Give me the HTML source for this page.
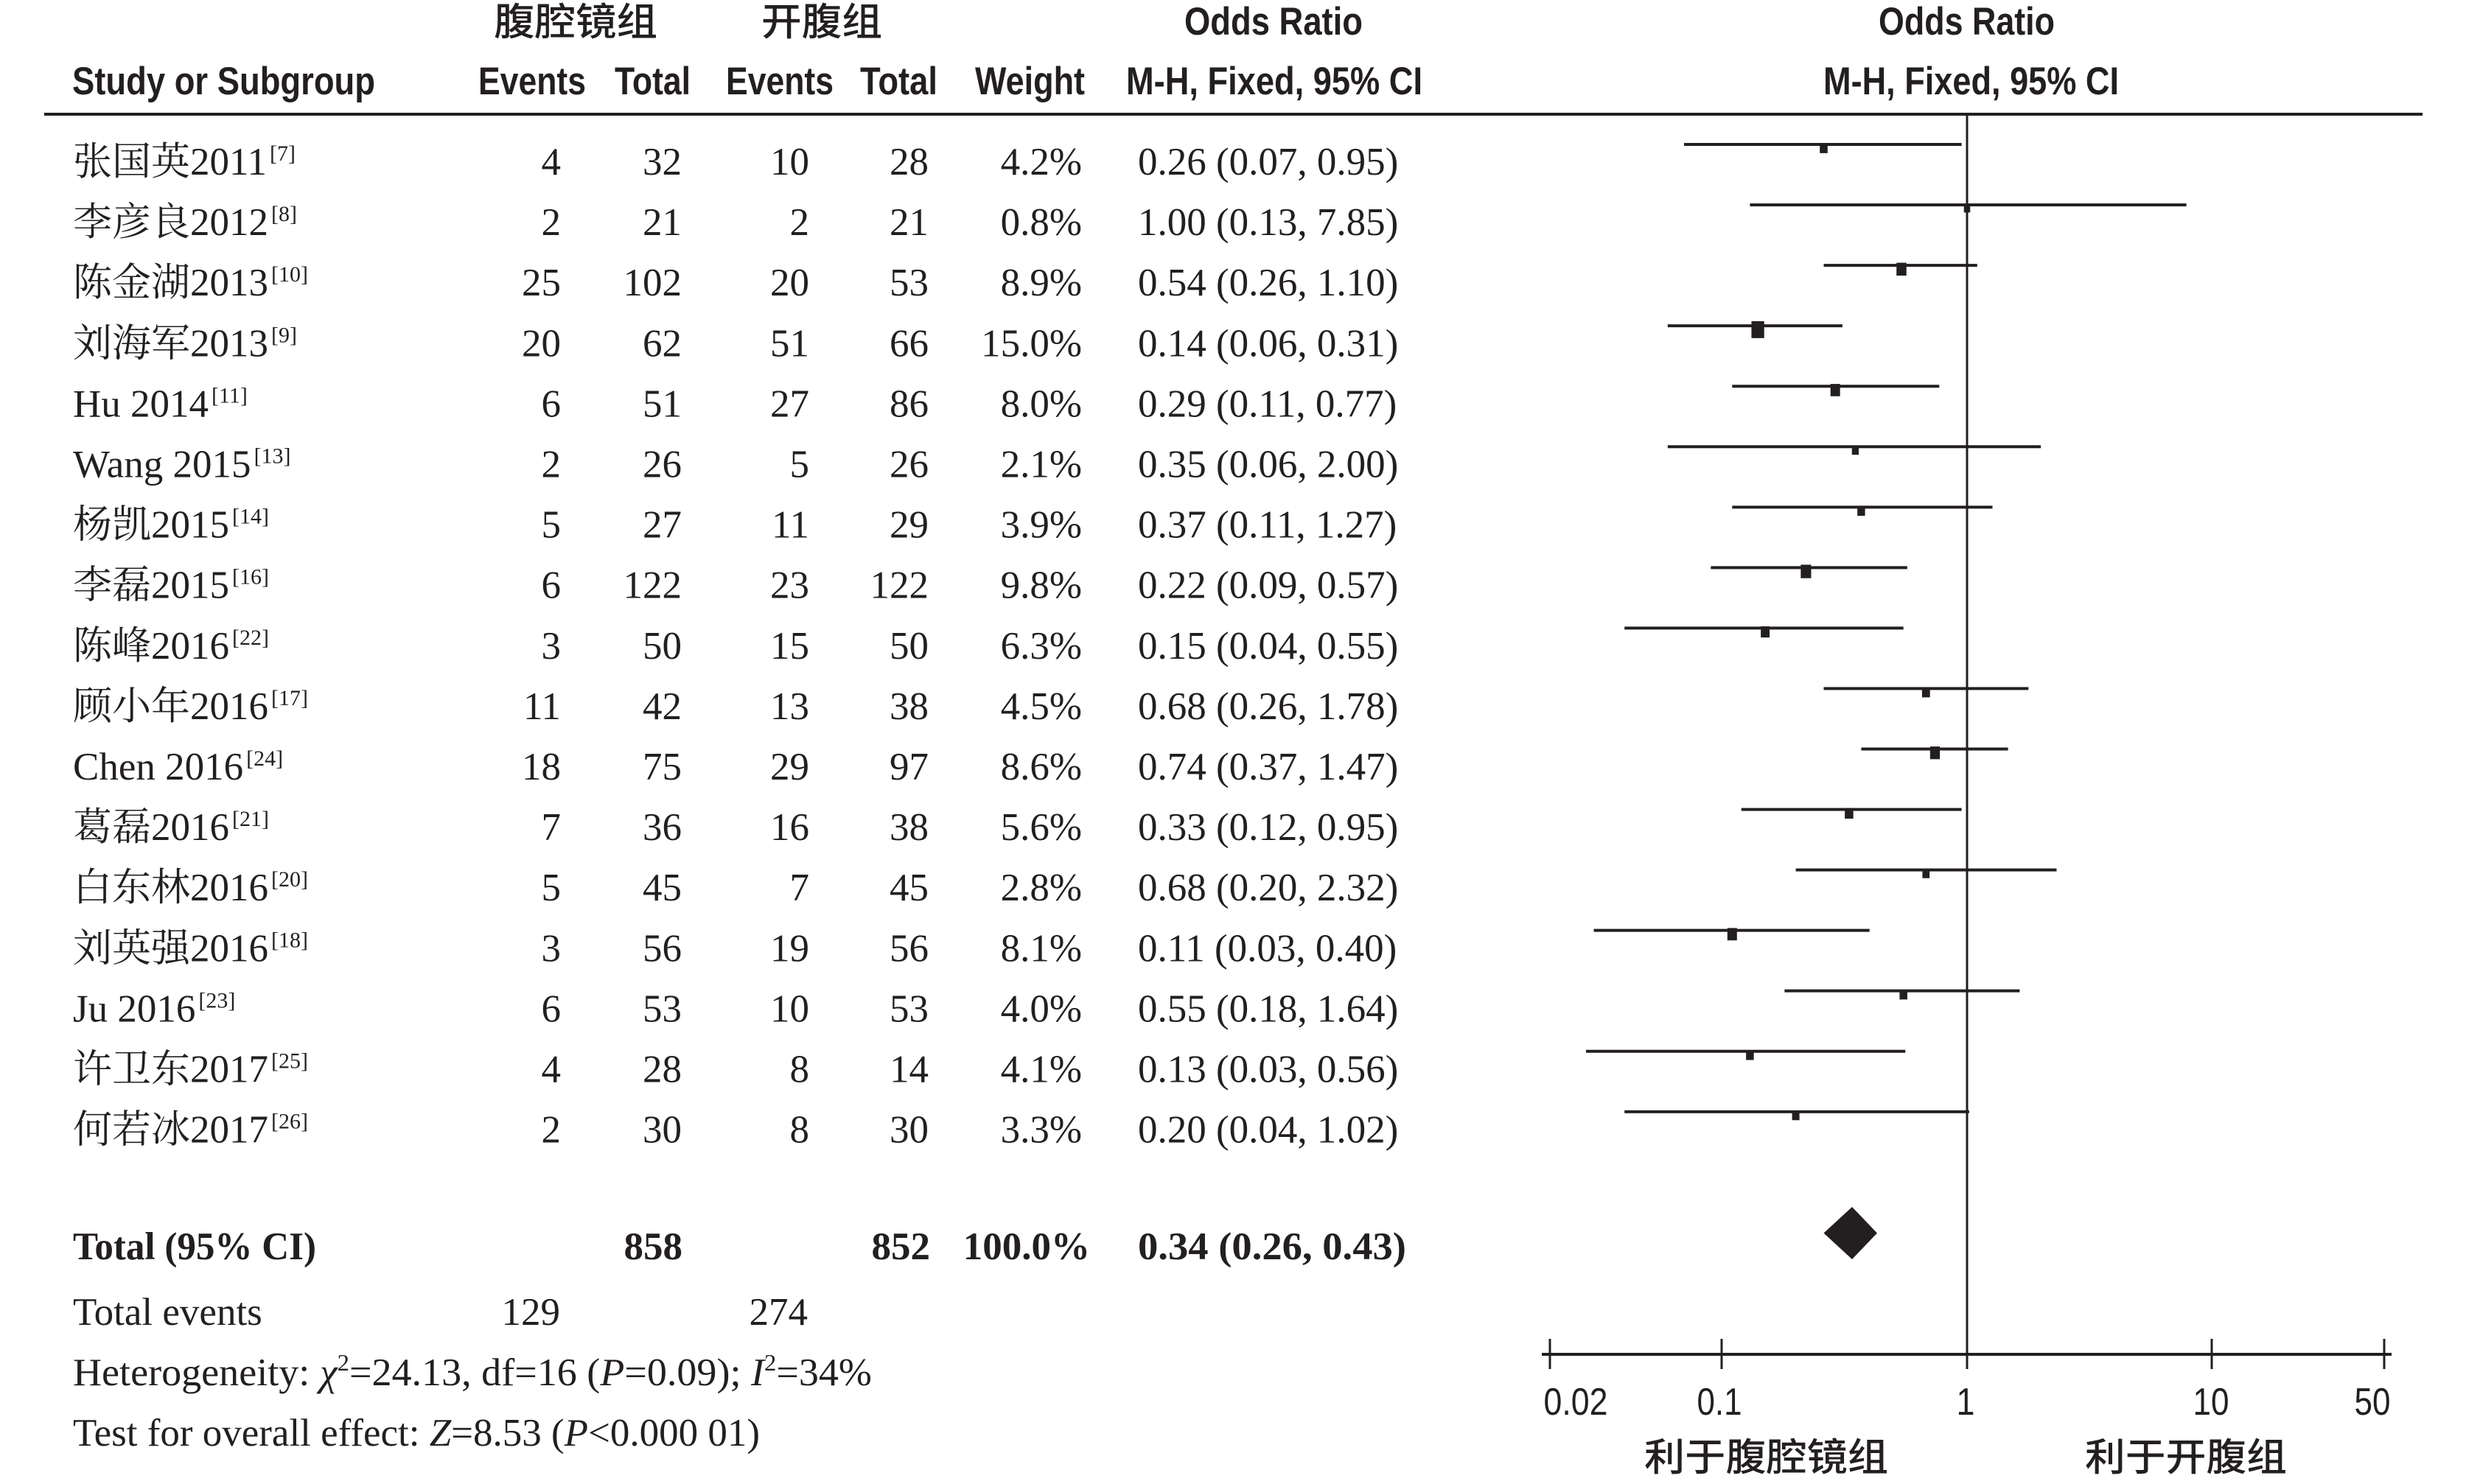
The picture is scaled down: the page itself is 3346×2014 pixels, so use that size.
<!DOCTYPE html>
<html>
<head>
<meta charset="utf-8">
<style>
html,body{margin:0;padding:0;background:#fff;}
svg{display:block;}
.h{font-family:"Liberation Sans",sans-serif;font-weight:bold;font-size:53px;fill:#231f20;}
.c{font-family:"Liberation Sans","Noto Sans CJK SC",sans-serif;font-size:52px;font-weight:500;fill:#231f20;}
.s{font-family:"Liberation Serif","Noto Serif CJK SC",serif;font-size:53px;fill:#231f20;}
.b{font-weight:bold;}
.t{font-family:"Liberation Sans",sans-serif;font-size:52px;fill:#231f20;}
.e{text-anchor:end;}
.m{text-anchor:middle;}
</style>
</head>
<body>
<svg width="3346" height="2014" viewBox="0 0 3346 2014" xmlns="http://www.w3.org/2000/svg">
<rect x="0" y="0" width="3346" height="2014" fill="#fff"/>

<!-- Headers -->
<text class="c" x="670" y="48" textLength="222" lengthAdjust="spacingAndGlyphs">腹腔镜组</text>
<text class="c" x="1033" y="48" textLength="164" lengthAdjust="spacingAndGlyphs">开腹组</text>
<text class="h" x="1607" y="47" textLength="242" lengthAdjust="spacingAndGlyphs">Odds Ratio</text>
<text class="h" x="2549" y="47" textLength="239" lengthAdjust="spacingAndGlyphs">Odds Ratio</text>

<text class="h" x="98" y="128" textLength="411" lengthAdjust="spacingAndGlyphs">Study or Subgroup</text>
<text class="h" x="649" y="128" textLength="146" lengthAdjust="spacingAndGlyphs">Events</text>
<text class="h" x="834" y="128" textLength="103" lengthAdjust="spacingAndGlyphs">Total</text>
<text class="h" x="985" y="128" textLength="146" lengthAdjust="spacingAndGlyphs">Events</text>
<text class="h" x="1167" y="128" textLength="105" lengthAdjust="spacingAndGlyphs">Total</text>
<text class="h" x="1323" y="128" textLength="149" lengthAdjust="spacingAndGlyphs">Weight</text>
<text class="h" x="1528" y="128" textLength="402" lengthAdjust="spacingAndGlyphs">M-H, Fixed, 95% CI</text>
<text class="h" x="2474" y="128" textLength="401" lengthAdjust="spacingAndGlyphs">M-H, Fixed, 95% CI</text>

<!-- Header rule -->
<rect x="60" y="153" width="3227" height="4" fill="#231f20"/>

<!-- Vertical line of no effect -->
<rect x="2667.5" y="155" width="3" height="1685" fill="#231f20"/>

<!-- Study rows -->
<g class="s">
<text x="99" y="237">张国英2011<tspan font-size="30" dx="4" dy="-19">[7]</tspan></text>
<text x="99" y="319.1">李彦良2012<tspan font-size="30" dx="4" dy="-19">[8]</tspan></text>
<text x="99" y="401.2">陈金湖2013<tspan font-size="30" dx="4" dy="-19">[10]</tspan></text>
<text x="99" y="483.3">刘海军2013<tspan font-size="30" dx="4" dy="-19">[9]</tspan></text>
<text x="99" y="565.4">Hu 2014<tspan font-size="30" dx="4" dy="-19">[11]</tspan></text>
<text x="99" y="647.5">Wang 2015<tspan font-size="30" dx="4" dy="-19">[13]</tspan></text>
<text x="99" y="729.6">杨凯2015<tspan font-size="30" dx="4" dy="-19">[14]</tspan></text>
<text x="99" y="811.7">李磊2015<tspan font-size="30" dx="4" dy="-19">[16]</tspan></text>
<text x="99" y="893.8">陈峰2016<tspan font-size="30" dx="4" dy="-19">[22]</tspan></text>
<text x="99" y="975.9">顾小年2016<tspan font-size="30" dx="4" dy="-19">[17]</tspan></text>
<text x="99" y="1058">Chen 2016<tspan font-size="30" dx="4" dy="-19">[24]</tspan></text>
<text x="99" y="1140.1">葛磊2016<tspan font-size="30" dx="4" dy="-19">[21]</tspan></text>
<text x="99" y="1222.2">白东林2016<tspan font-size="30" dx="4" dy="-19">[20]</tspan></text>
<text x="99" y="1304.3">刘英强2016<tspan font-size="30" dx="4" dy="-19">[18]</tspan></text>
<text x="99" y="1386.4">Ju 2016<tspan font-size="30" dx="4" dy="-19">[23]</tspan></text>
<text x="99" y="1468.5">许卫东2017<tspan font-size="30" dx="4" dy="-19">[25]</tspan></text>
<text x="99" y="1550.6">何若冰2017<tspan font-size="30" dx="4" dy="-19">[26]</tspan></text>
</g>

<!-- Events 1 -->
<g class="s e">
<text x="761" y="237">4</text>
<text x="761" y="319.1">2</text>
<text x="761" y="401.2">25</text>
<text x="761" y="483.3">20</text>
<text x="761" y="565.4">6</text>
<text x="761" y="647.5">2</text>
<text x="761" y="729.6">5</text>
<text x="761" y="811.7">6</text>
<text x="761" y="893.8">3</text>
<text x="761" y="975.9">11</text>
<text x="761" y="1058">18</text>
<text x="761" y="1140.1">7</text>
<text x="761" y="1222.2">5</text>
<text x="761" y="1304.3">3</text>
<text x="761" y="1386.4">6</text>
<text x="761" y="1468.5">4</text>
<text x="761" y="1550.6">2</text>
</g>
<!-- Total 1 -->
<g class="s e">
<text x="925" y="237">32</text>
<text x="925" y="319.1">21</text>
<text x="925" y="401.2">102</text>
<text x="925" y="483.3">62</text>
<text x="925" y="565.4">51</text>
<text x="925" y="647.5">26</text>
<text x="925" y="729.6">27</text>
<text x="925" y="811.7">122</text>
<text x="925" y="893.8">50</text>
<text x="925" y="975.9">42</text>
<text x="925" y="1058">75</text>
<text x="925" y="1140.1">36</text>
<text x="925" y="1222.2">45</text>
<text x="925" y="1304.3">56</text>
<text x="925" y="1386.4">53</text>
<text x="925" y="1468.5">28</text>
<text x="925" y="1550.6">30</text>
</g>
<!-- Events 2 -->
<g class="s e">
<text x="1098" y="237">10</text>
<text x="1098" y="319.1">2</text>
<text x="1098" y="401.2">20</text>
<text x="1098" y="483.3">51</text>
<text x="1098" y="565.4">27</text>
<text x="1098" y="647.5">5</text>
<text x="1098" y="729.6">11</text>
<text x="1098" y="811.7">23</text>
<text x="1098" y="893.8">15</text>
<text x="1098" y="975.9">13</text>
<text x="1098" y="1058">29</text>
<text x="1098" y="1140.1">16</text>
<text x="1098" y="1222.2">7</text>
<text x="1098" y="1304.3">19</text>
<text x="1098" y="1386.4">10</text>
<text x="1098" y="1468.5">8</text>
<text x="1098" y="1550.6">8</text>
</g>
<!-- Total 2 -->
<g class="s e">
<text x="1260" y="237">28</text>
<text x="1260" y="319.1">21</text>
<text x="1260" y="401.2">53</text>
<text x="1260" y="483.3">66</text>
<text x="1260" y="565.4">86</text>
<text x="1260" y="647.5">26</text>
<text x="1260" y="729.6">29</text>
<text x="1260" y="811.7">122</text>
<text x="1260" y="893.8">50</text>
<text x="1260" y="975.9">38</text>
<text x="1260" y="1058">97</text>
<text x="1260" y="1140.1">38</text>
<text x="1260" y="1222.2">45</text>
<text x="1260" y="1304.3">56</text>
<text x="1260" y="1386.4">53</text>
<text x="1260" y="1468.5">14</text>
<text x="1260" y="1550.6">30</text>
</g>
<!-- Weight -->
<g class="s e">
<text x="1468" y="237">4.2%</text>
<text x="1468" y="319.1">0.8%</text>
<text x="1468" y="401.2">8.9%</text>
<text x="1468" y="483.3">15.0%</text>
<text x="1468" y="565.4">8.0%</text>
<text x="1468" y="647.5">2.1%</text>
<text x="1468" y="729.6">3.9%</text>
<text x="1468" y="811.7">9.8%</text>
<text x="1468" y="893.8">6.3%</text>
<text x="1468" y="975.9">4.5%</text>
<text x="1468" y="1058">8.6%</text>
<text x="1468" y="1140.1">5.6%</text>
<text x="1468" y="1222.2">2.8%</text>
<text x="1468" y="1304.3">8.1%</text>
<text x="1468" y="1386.4">4.0%</text>
<text x="1468" y="1468.5">4.1%</text>
<text x="1468" y="1550.6">3.3%</text>
</g>
<!-- OR text -->
<g class="s">
<text x="1544" y="237">0.26 (0.07, 0.95)</text>
<text x="1544" y="319.1">1.00 (0.13, 7.85)</text>
<text x="1544" y="401.2">0.54 (0.26, 1.10)</text>
<text x="1544" y="483.3">0.14 (0.06, 0.31)</text>
<text x="1544" y="565.4">0.29 (0.11, 0.77)</text>
<text x="1544" y="647.5">0.35 (0.06, 2.00)</text>
<text x="1544" y="729.6">0.37 (0.11, 1.27)</text>
<text x="1544" y="811.7">0.22 (0.09, 0.57)</text>
<text x="1544" y="893.8">0.15 (0.04, 0.55)</text>
<text x="1544" y="975.9">0.68 (0.26, 1.78)</text>
<text x="1544" y="1058">0.74 (0.37, 1.47)</text>
<text x="1544" y="1140.1">0.33 (0.12, 0.95)</text>
<text x="1544" y="1222.2">0.68 (0.20, 2.32)</text>
<text x="1544" y="1304.3">0.11 (0.03, 0.40)</text>
<text x="1544" y="1386.4">0.55 (0.18, 1.64)</text>
<text x="1544" y="1468.5">0.13 (0.03, 0.56)</text>
<text x="1544" y="1550.6">0.20 (0.04, 1.02)</text>
</g>

<!-- Total row -->
<g class="s b">
<text x="99" y="1709" textLength="330" lengthAdjust="spacingAndGlyphs">Total (95% CI)</text>
<text x="926" y="1709" class="e">858</text>
<text x="1262" y="1709" class="e">852</text>
<text x="1479" y="1709" class="e">100.0%</text>
<text x="1544" y="1709" textLength="364" lengthAdjust="spacingAndGlyphs">0.34 (0.26, 0.43)</text>
</g>

<g class="s">
<text x="99" y="1798">Total events</text>
<text x="760" y="1798" class="e">129</text>
<text x="1096" y="1798" class="e">274</text>
<text x="99" y="1880" textLength="1084" lengthAdjust="spacingAndGlyphs">Heterogeneity: <tspan font-style="italic">χ</tspan><tspan font-size="32" dy="-20">2</tspan><tspan dy="20">=24.13, df=16 (</tspan><tspan font-style="italic">P</tspan><tspan>=0.09); </tspan><tspan font-style="italic">I</tspan><tspan font-size="32" dy="-20">2</tspan><tspan dy="20">=34%</tspan></text>
<text x="99" y="1962" textLength="932" lengthAdjust="spacingAndGlyphs">Test for overall effect: <tspan font-style="italic">Z</tspan><tspan>=8.53 (</tspan><tspan font-style="italic">P</tspan><tspan>&lt;0.000 01)</tspan></text>
</g>

<!-- Forest CI lines -->
<g fill="#231f20">
<rect x="2285" y="194" width="376.6" height="4"/>
<rect x="2374.4" y="276.05" width="592.2" height="4"/>
<rect x="2474.5" y="358.1" width="208.3" height="4"/>
<rect x="2262.8" y="440.15" width="237.1" height="4"/>
<rect x="2350.3" y="522.2" width="281" height="4"/>
<rect x="2262.8" y="604.25" width="506.3" height="4"/>
<rect x="2350.3" y="686.3" width="353.2" height="4"/>
<rect x="2321.3" y="768.35" width="266.5" height="4"/>
<rect x="2204.2" y="850.4" width="378.5" height="4"/>
<rect x="2474.5" y="932.45" width="277.8" height="4"/>
<rect x="2525.4" y="1014.5" width="199.2" height="4"/>
<rect x="2362.8" y="1096.55" width="298.8" height="4"/>
<rect x="2436.6" y="1178.6" width="353.9" height="4"/>
<rect x="2162.6" y="1260.65" width="374.1" height="4"/>
<rect x="2421.4" y="1342.7" width="319" height="4"/>
<rect x="2152" y="1424.75" width="433.3" height="4"/>
<rect x="2204.2" y="1506.8" width="467.7" height="4"/>
</g>

<!-- Squares -->
<g fill="#231f20">
<rect x="2469.2" y="194.55" width="10.6" height="13.3"/>
<rect x="2664.75" y="278.15" width="8.5" height="10.2"/>
<rect x="2573.25" y="356.55" width="13.5" height="17.5"/>
<rect x="2376.45" y="435.85" width="17.3" height="23"/>
<rect x="2483.7" y="521.05" width="13" height="16.7"/>
<rect x="2512.75" y="605.75" width="9.3" height="11.4"/>
<rect x="2520.2" y="687" width="10.4" height="13"/>
<rect x="2443.35" y="766.4" width="14.1" height="18.3"/>
<rect x="2389.15" y="850" width="11.9" height="15.2"/>
<rect x="2607.9" y="932.87" width="10.8" height="13.55"/>
<rect x="2618.85" y="1013.08" width="13.3" height="17.24"/>
<rect x="2503.15" y="1096.48" width="11.5" height="14.54"/>
<rect x="2608.45" y="1179.79" width="9.7" height="12.02"/>
<rect x="2343.8" y="1259.45" width="13" height="16.79"/>
<rect x="2577.45" y="1343.35" width="10.5" height="13.1"/>
<rect x="2369.15" y="1425.35" width="10.5" height="13.2"/>
<rect x="2431.6" y="1507.75" width="10" height="12.5"/>
</g>

<!-- Diamond -->
<polygon points="2474.5,1673.5 2513,1638 2547,1673.5 2513,1709" fill="#231f20"/>

<!-- Axis -->
<g fill="#231f20">
<rect x="2092" y="1836" width="1153" height="4"/>
<rect x="2101.5" y="1817" width="3" height="41"/>
<rect x="2334.5" y="1817" width="3" height="41"/>
<rect x="2667.5" y="1817" width="3" height="41"/>
<rect x="2999.5" y="1817" width="3" height="41"/>
<rect x="3233.5" y="1817" width="3" height="41"/>
</g>
<g class="t m">
<text x="2138" y="1920" textLength="87" lengthAdjust="spacingAndGlyphs">0.02</text>
<text x="2333" y="1920" textLength="61" lengthAdjust="spacingAndGlyphs">0.1</text>
<text x="2667" y="1920" textLength="25" lengthAdjust="spacingAndGlyphs">1</text>
<text x="3000" y="1920" textLength="49" lengthAdjust="spacingAndGlyphs">10</text>
<text x="3219" y="1920" textLength="49" lengthAdjust="spacingAndGlyphs">50</text>
</g>
<text class="c" x="2231" y="1996" textLength="331" lengthAdjust="spacingAndGlyphs">利于腹腔镜组</text>
<text class="c" x="2829" y="1996" textLength="274" lengthAdjust="spacingAndGlyphs">利于开腹组</text>
</svg>
</body>
</html>
